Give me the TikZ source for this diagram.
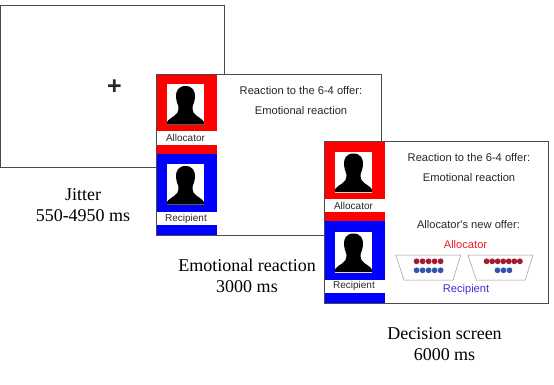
\documentclass[tikz,border=0pt]{standalone}
\usepackage{fontspec}
\setmainfont{Liberation Serif}
\newfontfamily\panelfont{Liberation Sans}
\definecolor{framegray}{RGB}{75,75,75}
\definecolor{textgray}{RGB}{40,40,40}
\definecolor{dotred}{RGB}{165,25,50}
\definecolor{dotblue}{RGB}{50,85,175}
\definecolor{labelblue}{RGB}{60,50,215}
\definecolor{labelred}{RGB}{235,30,40}
\tikzset{
  x=1pt,y=-1pt,
  screen/.style={draw=framegray,line width=1pt,fill=white},
  caption/.style={font=\fontsize{18}{21}\selectfont,align=center,text=black,inner sep=0pt},
  paneltext/.style={font=\panelfont\fontsize{11.15}{13}\selectfont,text=textgray,inner sep=0pt},
  tag/.style={font=\panelfont\fontsize{10}{12}\selectfont,text=textgray,inner sep=0pt},
  tray/.style={draw=gray!80,line width=0.5pt,fill=white}
}
% One portrait: white photo with a black head-and-shoulders silhouette
\newcommand{\portrait}[2]{%
  \fill[white] (#1+10.7,#2+10) rectangle (#1+48.2,#2+51);
  \fill[black] (#1+29.5,#2+12) .. controls (#1+22.5,#2+12) and (#1+19.6,#2+17) .. (#1+20,#2+23)
    .. controls (#1+20.4,#2+28) and (#1+22,#2+31) .. (#1+22.5,#2+33)
    .. controls (#1+22.5,#2+38) and (#1+21,#2+40) .. (#1+18,#2+42)
    .. controls (#1+15,#2+44) and (#1+12,#2+46) .. (#1+11,#2+48)
    -- (#1+11,#2+50.6) -- (#1+47.9,#2+50.6) -- (#1+47.9,#2+48)
    .. controls (#1+47,#2+46) and (#1+44,#2+44) .. (#1+41,#2+42)
    .. controls (#1+38,#2+40) and (#1+36.5,#2+38) .. (#1+36.5,#2+33)
    .. controls (#1+37,#2+31) and (#1+38.6,#2+28) .. (#1+39,#2+23)
    .. controls (#1+39.4,#2+17) and (#1+36.5,#2+12) .. (#1+29.5,#2+12) -- cycle;
}
% Left column of a screen: the allocator and recipient cards, with the heading lines
\newcommand{\sidebar}[3]{%
  \fill[red] (#1,#2) rectangle (#1+60.7,#2+79.5);
  \fill[white] (#1,#2+57) rectangle (#1+60.7,#2+70.5);
  \fill[blue] (#1,#2+79.5) rectangle (#1+60.7,#2+161);
  \fill[white] (#1,#2+138) rectangle (#1+60.7,#2+151);
  \portrait{#1}{#2}
  \portrait{#1}{#2+80}
  \node[tag] (#3a) at (#1+29.5,#2+64) {Allocator};
  \node[tag] (#3r) at (#1+30,#2+144.5) {Recipient};
  \node[paneltext] (#3h) at (#1+145,#2+16.5) {Reaction to the 6-4 offer:};
  \node[paneltext] (#3e) at (#1+145,#2+36.5) {Emotional reaction};
}
\begin{document}
\begin{tikzpicture}
\useasboundingbox (0,0) rectangle (554,384);
\fill[white] (0,0) rectangle (554,384);

% Fixation screen
\draw[screen] (0.5,5.5) rectangle (224,167);
\node[inner sep=0pt,font=\panelfont\bfseries\fontsize{25}{25}\selectfont,text=textgray] (cross) at (114.3,87.5) {+};
\node[caption] (cap1) at (83,205) {Jitter\\550-4950 ms};

% Emotional reaction screen
\draw[screen] (156,74) rectangle (381,235);
\sidebar{156}{74}{s}
\draw[framegray,line width=1pt] (156,74) rectangle (381,235);
\node[caption] (cap2) at (247,276) {Emotional reaction\\3000 ms};

% Decision screen
\draw[screen] (324,141.5) rectangle (548,303);
\sidebar{324}{141.5}{d}
\draw[framegray,line width=1pt] (324,141.5) rectangle (548,303);
\node[paneltext] (newoffer) at (468.5,225) {Allocator's new offer:};
\node[paneltext,text=labelred] (alloc) at (465.5,244.5) {Allocator};
\node[paneltext,text=labelblue] (recip) at (466,290) {Recipient};
\draw[tray] (395.7,255) -- (460.7,255) -- (453,280) -- (404,280) -- cycle;
\draw[tray] (468,255) -- (533,255) -- (525.3,280) -- (476.3,280) -- cycle;
\foreach \i in {0,...,4} {
  \fill[dotred] (416.6+6*\i,261.3) circle (2.9);
  \fill[dotblue] (416.6+6*\i,270.3) circle (2.9);
}
\foreach \i in {0,...,6} \fill[dotred] (486.6+5.55*\i,261.3) circle (2.9);
\foreach \i in {0,...,2} \fill[dotblue] (497.5+6*\i,270.3) circle (2.9);

% Caption under the decision screen
\node[caption] (cap3) at (444.5,344) {Decision screen\\6000 ms};
\end{tikzpicture}
\end{document}
